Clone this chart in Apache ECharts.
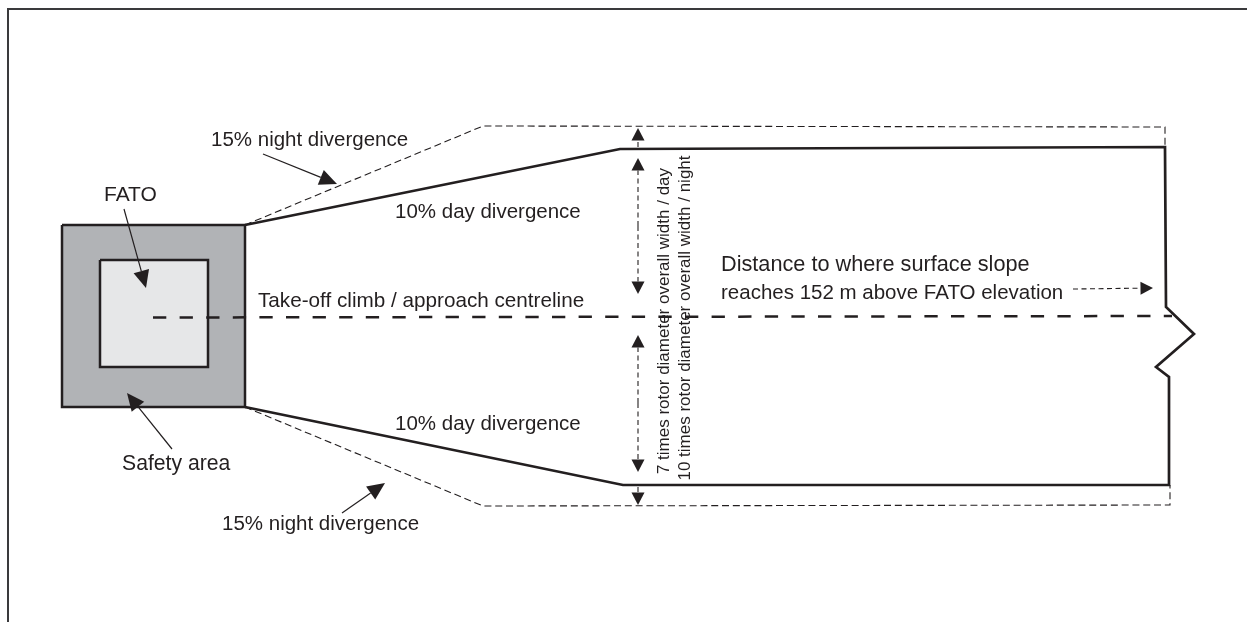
<!DOCTYPE html>
<html><head><meta charset="utf-8">
<style>html,body{margin:0;padding:0;background:#fff}#c{width:1247px;height:622px}</style>
<script src="https://cdn.jsdelivr.net/npm/echarts@6/dist/echarts.min.js"></script>
</head><body><div id="c"></div>
<script>
// Diagram geometry (x, y in picture units)
const frame = [[8,622],[8,9],[1247,9]];
const safetyArea = [[62,225],[245,225],[245,407],[62,407],[62,225]];
const fatoArea = [[100,260],[208,260],[208,367],[100,367],[100,260]];
const dayOutline = [[245,225],[620,149],[1165,147],[1166,307],[1194,334],[1156,367],[1169,377],[1169,485],[623,485],[245,407]];
const nightTop = [[245,225],[483,126],[1165,127],[1165,147]];
const nightBottom = [[245,407],[483,506],[1170,505],[1170,485]];
const centreline = [[153,317.5],[1172,316]];
const leaderArrows = [
  [263,154,337,184],[124,209,146,288],[172,449,127,393],[342,513,385,483]
];
const dimensionArrows = [
  [638,147,638,128],[638,226,638,158],[638,226,638,294],[638,403,638,335],[638,403,638,472],[638,487,638,505],[1073,289,1153,288]
];
const labelsText = ["15% night divergence","FATO","10% day divergence","Take-off climb / approach centreline","Distance to where surface slope","reaches 152 m above FATO elevation","10% day divergence","Safety area","15% night divergence"];
const labelsX = [211,104,395,258,721,721,395,122,222];
const labelsY = [140,195,212,301,265,293,424,464,524];
const labelsSize = [20.5,21,20.5,20.7,21.7,20.5,20.5,21.2,20.5];
const vLabelsText = ["7 times rotor diameter overall width / day","10 times rotor diameter overall width / night"];
const vLabelsX = [664,685];
const vLabelsY = [321,318];

const INK = '#231f20';
const FONT = '"Liberation Sans", Arial, sans-serif';
const poly = (name,data,color,width,dash,area,z) => ({
  type:'line',name,data,symbol:'none',silent:true,animation:false,clip:false,z,
  lineStyle:{color,width,type:dash||'solid',join:'miter',cap:'butt'},
  areaStyle: area?{color:area,opacity:1,origin:'end'}:undefined
});
function arrowItem(api,dashed,L,W){
  const a=api.coord([api.value(0),api.value(1)]), b=api.coord([api.value(2),api.value(3)]);
  const dx=b[0]-a[0],dy=b[1]-a[1],l=Math.hypot(dx,dy),ux=dx/l,uy=dy/l;
  const bx=b[0]-ux*L,by=b[1]-uy*L;
  return {type:'group',children:[
    {type:'line',shape:{x1:a[0],y1:a[1],x2:bx,y2:by},style:{stroke:INK,lineWidth:dashed?1.1:1.2,lineDash:dashed?[5,3.5]:null}},
    {type:'polygon',shape:{points:[b,[bx-uy*W,by+ux*W],[bx+uy*W,by-ux*W]]},style:{fill:INK}}
  ]};
}
const labelSeries = (name,xs,ys,texts,sizes,pos,rot) => ({
  type:'scatter',name,symbol:'circle',symbolSize:0,silent:true,animation:false,clip:false,z:10,itemStyle:{opacity:1},
  data:texts.map((t,i)=>({name:t,value:[xs[i],ys[i]],label:{fontSize:sizes[i]}})),
  label:{show:true,formatter:'{b}',position:pos,rotate:rot,distance:0,color:INK,opacity:1,fontFamily:FONT,align:rot?'center':'left',verticalAlign:'middle'}
});
const chart = echarts.init(document.getElementById('c'),null,{width:1247,height:622});
chart.setOption({
  animation:false,backgroundColor:'#fff',
  grid:{left:0,right:0,top:0,bottom:0},
  xAxis:{type:'value',min:0,max:1247,show:false},
  yAxis:{type:'value',min:0,max:622,inverse:true,show:false},
  series:[
    poly('frame',frame,'#3a3a3c',2,null,null,1),
    poly('safety area',safetyArea,INK,2.5,null,'#b1b3b6',2),
    poly('FATO',fatoArea,INK,2.5,null,'#e6e7e8',3),
    poly('night top',nightTop,INK,1.1,[7,3.8],null,4),
    poly('night bottom',nightBottom,INK,1.1,[7,3.8],null,4),
    poly('day outline',dayOutline,INK,2.7,null,null,5),
    poly('centreline',centreline,INK,2.5,[13.3,13.3],null,6),
    {type:'custom',name:'leaders',coordinateSystem:'cartesian2d',silent:true,animation:false,clip:false,z:7,data:leaderArrows,encode:{x:[0,2],y:[1,3]},renderItem:(p,api)=>arrowItem(api,false,17.5,8)},
    {type:'custom',name:'dims',coordinateSystem:'cartesian2d',silent:true,animation:false,clip:false,z:7,data:dimensionArrows,encode:{x:[0,2],y:[1,3]},renderItem:(p,api)=>arrowItem(api,true,12.5,6.5)},
    labelSeries('labels',labelsX,labelsY,labelsText,labelsSize,'right',0),
    labelSeries('vlabels',vLabelsX,vLabelsY,vLabelsText,[17,17],'inside',90)
  ]
});
</script></body></html>
